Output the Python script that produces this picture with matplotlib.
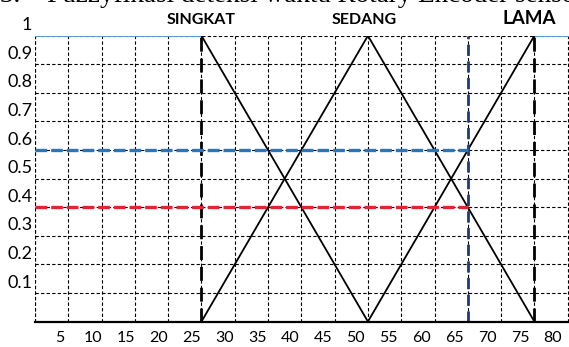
import matplotlib
matplotlib.use("Agg")
import matplotlib.pyplot as plt
import matplotlib.transforms as mtransforms
import numpy as np

# ---- data ----
x_ticks_vals = [5, 10, 15, 20, 25, 30, 35, 40, 45, 50, 55, 60, 65, 70, 75, 80]
y_ticks_vals = [0.1, 0.2, 0.3, 0.4, 0.5, 0.6, 0.7, 0.8, 0.9, 1.0]
y_tick_labels = ["0.1", "0.2", "0.3", "0.4", "0.5", "0.6", "0.7", "0.8", "0.9", "1"]

singkat_x = [0, 25, 50]
singkat_y = [1, 1, 0]
sedang_x = [25, 50, 75]
sedang_y = [0, 1, 0]
lama_x = [50, 75, 80]
lama_y = [0, 1, 1]

input_x = 65
mu_sedang = 0.4
mu_lama = 0.6

set_labels = ["SINGKAT", "SEDANG", "LAMA"]
set_label_x = [25, 49.5, 74.3]

title_text = "3.    Fuzzyfikasi deteksi waktu Rotary Encoder sensor"

# ---- figure ----
W, H = 569, 347
fig = plt.figure(figsize=(W / 100, H / 100), dpi=100)
ax = fig.add_axes([35 / W, 1 - 321.6 / H, (W - 35) / W, (321.6 - 35.7) / H])
ax.set_xlim(0, 80.2)
ax.set_ylim(0, 1)

# grid
ax.set_xticks(np.arange(0, 81, 5), minor=True)
ax.set_yticks(y_ticks_vals)
ax.set_yticklabels(y_tick_labels)
ax.grid(True, which="minor", axis="x", color="black", linestyle=(0, (3, 2)), linewidth=0.8)
ax.grid(True, which="major", axis="y", color="black", linestyle=(0, (3, 2)), linewidth=0.8)
ax.axvline(0, color="black", linestyle=(0, (3, 2)), linewidth=0.8)

# x tick labels (offset from gridlines as in reference)
px_per_unit = (W - 35) / 80.2
label_px = [27.1 + 6.574 * v for v in x_ticks_vals]
label_pos = [(p - 35) / px_per_unit for p in label_px]
ax.set_xticks(label_pos)
ax.set_xticklabels([str(v) for v in x_ticks_vals])
ax.tick_params(axis="both", which="both", length=0)
ax.tick_params(axis="x", pad=7, labelsize=11.5)
ax.tick_params(axis="y", pad=2, labelsize=13)
for lab in ax.get_xticklabels() + ax.get_yticklabels():
    lab.set_fontfamily("Lato")
offset = mtransforms.ScaledTranslation(0, 12 / 100, fig.dpi_scale_trans)
for lab in ax.get_yticklabels():
    lab.set_transform(lab.get_transform() + offset)

for s in ["top", "right", "left"]:
    ax.spines[s].set_visible(False)
ax.spines["bottom"].set_linewidth(1.6)
ax.spines["bottom"].set_zorder(6)

# plateau lines (light blue)
ax.plot(singkat_x[:2], singkat_y[:2], color="#5B9BD5", linewidth=1.4, zorder=4)
ax.plot(lama_x[1:], lama_y[1:], color="#5B9BD5", linewidth=1.4, zorder=4)

# membership slopes
ax.plot(singkat_x[1:], singkat_y[1:], color="black", linewidth=1.3, zorder=4)
ax.plot(sedang_x, sedang_y, color="black", linewidth=1.3, zorder=4)
ax.plot(lama_x[:2], lama_y[:2], color="black", linewidth=1.3, zorder=4)

# boundary dashed lines
ax.axvline(singkat_x[1], color="black", linestyle=(0, (5, 2.5)), linewidth=2.0, zorder=5)
ax.axvline(lama_x[1], color="black", linestyle=(0, (5, 2.5)), linewidth=2.0, zorder=5)

# input line and memberships
ax.axvline(input_x, color="#1F3A78", linestyle=(0, (4, 2)), linewidth=2.0, zorder=5)
ax.plot([0, input_x], [mu_lama, mu_lama], color="#2E75B6", linestyle=(0, (3.5, 1.2)), linewidth=2.4, zorder=5)
ax.plot([0, input_x], [mu_sedang, mu_sedang], color="#E3262B", linestyle=(0, (3.5, 1.2)), linewidth=2.4, zorder=5)

# set labels
for lbl, lx in zip(set_labels, set_label_x):
    ax.text(lx, 1.03, lbl, ha="center", va="bottom", fontsize=11.5 if lbl != "LAMA" else 13.5,
            fontweight="bold", family="Lato", transform=ax.transData, clip_on=False)

# clipped title (only its lower part is visible, as in the reference)
fig.text(0.0, 1 - 1.5 / H, title_text, ha="left", va="baseline", fontsize=19.5,
         family="Liberation Serif")

fig.savefig("out.png", dpi=100)
